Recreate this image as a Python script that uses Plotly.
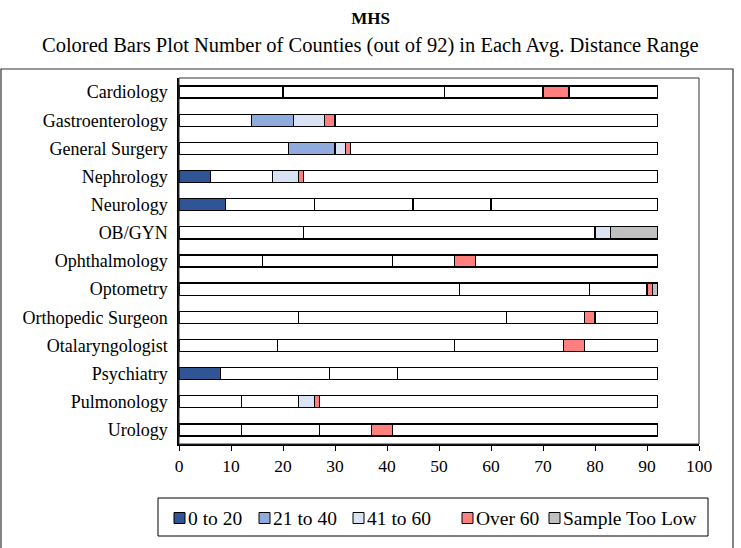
import plotly.graph_objects as go

categories = ["Cardiology", "Gastroenterology", "General Surgery", "Nephrology", "Neurology",
              "OB/GYN", "Ophthalmology", "Optometry", "Orthopedic Surgeon", "Otalaryngologist",
              "Psychiatry", "Pulmonology", "Urology"]

range_names = ["0 to 20", "21 to 40", "41 to 60", "Over 60", "Sample Too Low"]

seg_0_20 = [20, 14, 21, 6, 9, 24, 16, 54, 23, 19, 8, 12, 12]
seg_21_40 = [31, 8, 9, 12, 17, 56, 25, 25, 40, 34, 21, 11, 15]
seg_41_60 = [19, 6, 2, 5, 19, 3, 12, 11, 15, 21, 13, 3, 10]
seg_over_60 = [5, 2, 1, 1, 15, 0, 4, 1, 2, 4, 50, 1, 4]
seg_low = [17, 62, 59, 68, 32, 9, 35, 1, 12, 14, 0, 65, 51]

# which segments are coloured (1) or left white (0)
hi_0_20 = [0, 0, 0, 1, 1, 0, 0, 0, 0, 0, 1, 0, 0]
hi_21_40 = [0, 1, 1, 0, 0, 0, 0, 0, 0, 0, 0, 0, 0]
hi_41_60 = [0, 1, 1, 1, 0, 1, 0, 0, 0, 0, 0, 1, 0]
hi_over_60 = [1, 1, 1, 1, 0, 0, 1, 1, 1, 1, 0, 1, 1]
hi_low = [0, 0, 0, 0, 0, 1, 0, 1, 0, 0, 0, 0, 0]

segments = [seg_0_20, seg_21_40, seg_41_60, seg_over_60, seg_low]
highlights = [hi_0_20, hi_21_40, hi_41_60, hi_over_60, hi_low]
colors = ["#2F5597", "#8FAADC", "#DAE3F3", "#FF7F7F", "#C0C0C0"]

FONT = "Liberation Serif"

fig = go.Figure()
for name, vals, hi, col in zip(range_names, segments, highlights, colors):
    fig.add_trace(go.Bar(
        y=categories, x=vals, orientation="h", width=0.43,
        marker=dict(color=[col if h else "white" for h in hi],
                    line=dict(color="black", width=1.3)),
        showlegend=False, hoverinfo="x+y", name=name,
    ))

L, R, T, B = 179, 699, 78, 444
W, H = 741, 548
pw, ph = R - L, B - T

def px(x):
    return (x - L) / pw

def py(y):
    return (B - y) / ph

# ---- manual legend layout (pixel positions in the page) ----
legend_swatch_x = [174, 259, 353, 462, 549]
legend_box = (158, 498, 708, 536)
legend_cy = 518
sw = 11

shapes = [
    dict(type="rect", xref="paper", yref="paper", x0=0, x1=1, y0=0, y1=1,
         line=dict(color="#333333", width=1), layer="above"),
    dict(type="rect", xref="paper", yref="paper", x0=px(1), x1=px(733),
         y0=py(600), y1=py(69), line=dict(color="#333333", width=1.2), layer="below"),
    dict(type="rect", xref="paper", yref="paper",
         x0=px(legend_box[0]), x1=px(legend_box[2]),
         y0=py(legend_box[3]), y1=py(legend_box[1]),
         line=dict(color="black", width=1), fillcolor="white", layer="above"),
]
annotations = [
    dict(text="Colored Bars Plot Number of Counties (out of 92) in Each Avg. Distance Range",
         xref="paper", yref="paper", x=px(370), y=py(46),
         xanchor="center", yanchor="middle", showarrow=False,
         font=dict(family=FONT, size=20.5, color="black")),
]
for name, col, sx in zip(range_names, colors, legend_swatch_x):
    shapes.append(dict(type="rect", xref="paper", yref="paper",
                       x0=px(sx), x1=px(sx + sw),
                       y0=py(legend_cy + sw / 2), y1=py(legend_cy - sw / 2),
                       line=dict(color="black", width=1), fillcolor=col, layer="above"))
    annotations.append(dict(text=name, xref="paper", yref="paper",
                            x=px(sx + sw + 1), y=py(legend_cy + 0.5),
                            xanchor="left", yanchor="middle", showarrow=False,
                            font=dict(family=FONT, size=19.5, color="black")))

fig.update_layout(
    width=W, height=H,
    margin=dict(l=L, r=W - R, t=T, b=H - B, autoexpand=False),
    barmode="stack",
    showlegend=False,
    paper_bgcolor="white", plot_bgcolor="white",
    font=dict(family=FONT, size=18, color="black"),
    title=dict(text="<b>MHS</b>", x=0.5, xanchor="center", y=1 - 18 / H, yanchor="middle",
               font=dict(family=FONT, size=17, color="black")),
    xaxis=dict(range=[0, 100], dtick=10, showgrid=False, zeroline=False,
               showline=True, linecolor="black", linewidth=1.5,
               ticks="outside", ticklen=5, tickcolor="black",
               tickfont=dict(family=FONT, size=17.5), fixedrange=True),
    yaxis=dict(autorange=False, range=[12.5, -0.5], showgrid=False, zeroline=False,
               showline=True, linecolor="black", linewidth=1.5, ticks="",
               ticklabelstandoff=6,
               tickfont=dict(family=FONT, size=18), fixedrange=True),
    annotations=annotations,
    shapes=shapes,
)

fig.write_html("out.html")
